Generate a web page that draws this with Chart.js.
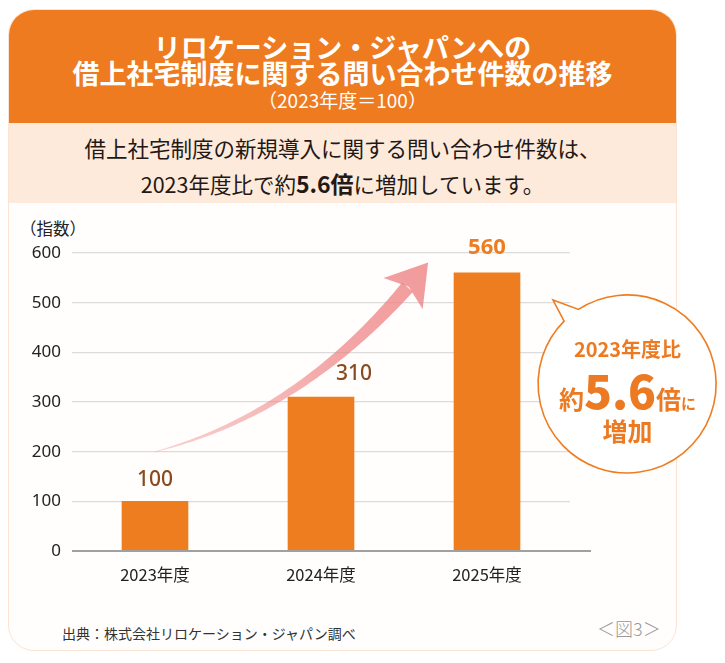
<!DOCTYPE html>
<html><head><meta charset="utf-8">
<script src="https://cdn.jsdelivr.net/npm/chart.js@4.4.1/dist/chart.umd.min.js"></script>
<style>
html,body{margin:0;padding:0;background:#fff;width:725px;height:663px;overflow:hidden;font-family:"Noto Sans CJK JP","Noto Sans",sans-serif;}
#card{position:absolute;left:8px;top:9px;width:669px;height:642px;border-radius:26px;background:#fffefd;border:1.5px solid #FBE4D4;box-sizing:border-box;overflow:hidden;}
#head{position:absolute;left:0;top:0;width:100%;height:113px;background:#EE7B1F;}
#band{position:absolute;left:0;top:113px;width:100%;height:80px;background:#FDEADB;}
.t{position:absolute;left:8px;width:669px;text-align:center;white-space:nowrap;}
.a{position:absolute;white-space:nowrap;}
#c{position:absolute;left:0;top:0;z-index:1;}
#bubble{position:absolute;left:530px;top:290px;z-index:2;}
.b{position:absolute;left:530px;width:195px;text-align:center;white-space:nowrap;color:#EC7A22;font-weight:700;z-index:3;}
</style></head>
<body>
<div id="card"><div id="head"></div><div id="band"></div></div>
<div class="t" style="top:30px;line-height:34px;font-size:27px;font-weight:700;color:#fff;">リロケーション・ジャパンへの</div>
<div class="t" style="top:56px;line-height:34px;font-size:27px;font-weight:700;color:#fff;">借上社宅制度に関する問い合わせ件数の推移</div>
<div class="t" style="top:88px;line-height:24px;font-size:19px;color:#fff;">（2023年度＝100）</div>
<div class="t" style="top:133px;line-height:30px;font-size:21.5px;color:#231815;">借上社宅制度の新規導入に関する問い合わせ件数は、</div>
<div class="t" style="top:168px;line-height:30px;font-size:21.5px;color:#231815;">2023年度比で約<b style="font-size:23px;">5.6倍</b>に増加しています。</div>
<div class="a" style="left:20px;top:217px;line-height:22px;font-size:16.5px;color:#222;">（指数）</div>
<div class="a" style="left:62px;top:623px;line-height:20px;font-size:14px;color:#333;">出典：株式会社リロケーション・ジャパン調べ</div>
<div class="a" style="left:597px;top:615px;line-height:26px;font-size:18px;color:#999;font-weight:300;">＜図3＞</div>
<canvas id="c" width="725" height="663" style="width:725px;height:663px;"></canvas>
<svg id="bubble" width="195" height="190" viewBox="0 0 195 190">
<path d="M34.1,31.1 L23,10 L48.5,19.4 A89,89 0 1 1 34.1,31.1 Z" fill="#fff" stroke="#EE7D22" stroke-width="1.6"/>
</svg>
<div class="b" style="top:336px;line-height:26px;font-size:20px;">2023年度比</div>
<div class="b" style="top:364px;line-height:50px;font-size:25px;">約<span style="font-size:46px;font-weight:900;">5.6</span>倍<span style="font-size:15px;">に</span></div>
<div class="b" style="top:415px;line-height:30px;font-size:25px;">増加</div>
<script>
const categories = ['2023年度', '2024年度', '2025年度'];
const indexValues = [100, 310, 560];
const valueLabels = ['100', '310', '560'];
const yTicks = [0, 100, 200, 300, 400, 500, 600];

const BAR_COLOR = '#EE7D1F';
const labelStyles = [
  {color: '#8B4A1E', weight: '500', size: 21, dx: 0, dy: -21},
  {color: '#8B4A1E', weight: '500', size: 21, dx: 33, dy: -23},
  {color: '#EE7D22', weight: '700', size: 22, dx: 0, dy: -25}
];
// decorative growth arrow, anchored in (category index, value) space
const arrowAnchors = {tail: [0, 200], c1: [0.86, 275], c2: [1.38, 470], tip: [1.645, 581]};

const baselinePlugin = {
  id: 'baseline',
  afterDatasetsDraw(chart) {
    const {ctx, chartArea, scales} = chart;
    const y = scales.y.getPixelForValue(0);
    ctx.save();
    ctx.strokeStyle = '#A0A0A0';
    ctx.lineWidth = 2;
    ctx.beginPath();
    ctx.moveTo(chartArea.left, y);
    ctx.lineTo(chartArea.right + 21, y);
    ctx.stroke();
    ctx.restore();
  }
};

const arrowPlugin = {
  id: 'arrow',
  afterDatasetsDraw(chart) {
    const {ctx, scales} = chart;
    const P = a => [scales.x.getPixelForValue(a[0]), scales.y.getPixelForValue(a[1])];
    const p0 = P(arrowAnchors.tail), p1 = P(arrowAnchors.c1), p2 = P(arrowAnchors.c2), p3 = P(arrowAnchors.tip);
    const bez = t => {
      const u = 1 - t;
      return [u*u*u*p0[0] + 3*u*u*t*p1[0] + 3*u*t*t*p2[0] + t*t*t*p3[0],
              u*u*u*p0[1] + 3*u*u*t*p1[1] + 3*u*t*t*p2[1] + t*t*t*p3[1]];
    };
    const der = t => {
      const u = 1 - t;
      return [3*u*u*(p1[0]-p0[0]) + 6*u*t*(p2[0]-p1[0]) + 3*t*t*(p3[0]-p2[0]),
              3*u*u*(p1[1]-p0[1]) + 6*u*t*(p2[1]-p1[1]) + 3*t*t*(p3[1]-p2[1])];
    };
    const left = [], right = [];
    const N = 80;
    for (let i = 0; i <= N; i++) {
      const t = i / N;
      const p = bez(t);
      if (Math.hypot(p3[0]-p[0], p3[1]-p[1]) < 30) break;
      const d = der(t); const L = Math.hypot(d[0], d[1]) || 1;
      const n = [-d[1]/L, d[0]/L];
      const hw = 0.3 + 7.8 * Math.pow(t, 0.9);
      left.push([p[0] + n[0]*hw, p[1] + n[1]*hw]);
      right.push([p[0] - n[0]*hw, p[1] - n[1]*hw]);
    }
    const g = ctx.createLinearGradient(p0[0], p0[1], p3[0], p3[1]);
    g.addColorStop(0, 'rgba(238,130,130,0.35)');
    g.addColorStop(0.6, 'rgba(238,130,130,0.7)');
    g.addColorStop(1, 'rgba(238,130,130,0.8)');
    ctx.save();
    ctx.fillStyle = g;
    ctx.beginPath();
    left.forEach((p, i) => i ? ctx.lineTo(p[0], p[1]) : ctx.moveTo(p[0], p[1]));
    for (let i = right.length - 1; i >= 0; i--) ctx.lineTo(right[i][0], right[i][1]);
    ctx.closePath();
    ctx.fill();
    const d = der(1); const L = Math.hypot(d[0], d[1]);
    const u = [d[0]/L, d[1]/L], n = [-u[1], u[0]];
    ctx.beginPath();
    ctx.moveTo(p3[0], p3[1]);
    ctx.lineTo(p3[0] - u[0]*40 + n[0]*25, p3[1] - u[1]*40 + n[1]*25);
    ctx.lineTo(p3[0] - u[0]*31, p3[1] - u[1]*31);
    ctx.lineTo(p3[0] - u[0]*40 - n[0]*25, p3[1] - u[1]*40 - n[1]*25);
    ctx.closePath();
    ctx.fill();
    ctx.restore();
  }
};

const valueLabelPlugin = {
  id: 'valueLabels',
  afterDatasetsDraw(chart) {
    const {ctx} = chart;
    const meta = chart.getDatasetMeta(0);
    ctx.save();
    ctx.textAlign = 'center';
    ctx.textBaseline = 'middle';
    meta.data.forEach((bar, i) => {
      const s = labelStyles[i];
      ctx.fillStyle = s.color;
      ctx.font = `${s.weight} ${s.size}px "Noto Sans", "Noto Sans CJK JP", sans-serif`;
      ctx.fillText(valueLabels[i], bar.x + s.dx, bar.y + s.dy);
    });
    ctx.restore();
  }
};

new Chart(document.getElementById('c'), {
  type: 'bar',
  data: {
    labels: categories,
    datasets: [{data: indexValues, backgroundColor: BAR_COLOR, borderWidth: 0, barThickness: 66}]
  },
  options: {
    responsive: false,
    animation: false,
    events: [],
    layout: {padding: {left: 20, right: 155, top: 253, bottom: 72}},
    plugins: {legend: {display: false}, tooltip: {enabled: false}},
    scales: {
      x: {
        grid: {display: false, drawTicks: false},
        border: {display: false},
        ticks: {color: '#222', padding: 14, font: {family: '"Noto Sans CJK JP", sans-serif', size: 16.5}},
        afterFit(s) { s.height = 40; }
      },
      y: {
        min: 0, max: 600,
        afterBuildTicks(s) { s.ticks = yTicks.map(v => ({value: v})); },
        grid: {color: '#DCDCDC', lineWidth: 1.2, drawTicks: false},
        border: {display: false},
        ticks: {color: '#222', padding: 11, font: {family: '"Noto Sans", sans-serif', size: 17}},
        afterFit(s) { s.width = 52; }
      }
    }
  },
  plugins: [baselinePlugin, arrowPlugin, valueLabelPlugin]
});
</script>
</body></html>
